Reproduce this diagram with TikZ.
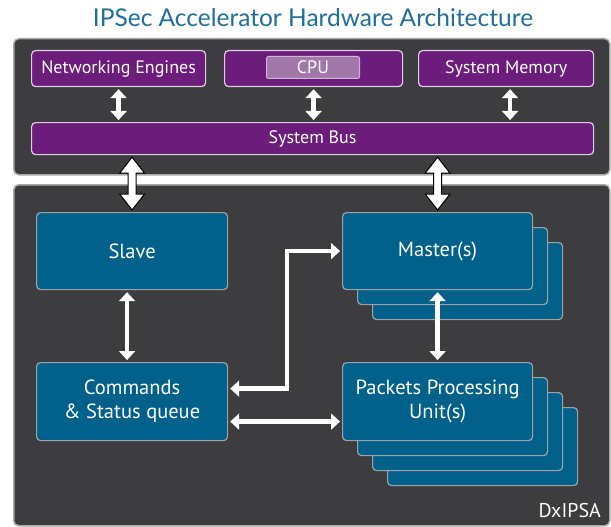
\documentclass[tikz,border=0pt]{standalone}
\usepackage{fontspec}
\setmainfont{PT Sans}
\newfontfamily\titlefont{Lato}
\usetikzlibrary{arrows.meta,calc}
\definecolor{titleblue}{HTML}{1F6E9C}
\definecolor{panelgray}{HTML}{3D3C3F}
\definecolor{panelrim}{HTML}{A8A8A8}
\definecolor{hostpurple}{HTML}{6C1D7B}
\definecolor{purplerim}{HTML}{DCCFE2}
\definecolor{cpulight}{HTML}{A277AA}
\definecolor{cpurim}{HTML}{CDB5D3}
\definecolor{unitblue}{HTML}{02618B}
\definecolor{bluerim}{HTML}{9AA3A9}
\tikzset{
  panel/.style={draw=panelrim, fill=panelgray, line width=1.5pt, rounded corners=5pt, anchor=north west, inner sep=0pt},
  hostbox/.style={draw=purplerim, fill=hostpurple, line width=1.2pt, rounded corners=4pt, anchor=north west,
    minimum height=36pt, inner sep=0pt, text=white, font=\fontsize{18}{20}\selectfont},
  cpuchip/.style={draw=cpurim, fill=cpulight, line width=1pt, rounded corners=2pt, anchor=north west,
    minimum width=93pt, minimum height=22pt, inner sep=0pt, text=white, font=\fontsize{18}{20}\selectfont},
  unitbox/.style={draw=bluerim, fill=unitblue, line width=1.2pt, rounded corners=4pt, anchor=north west,
    minimum width=190pt, minimum height=77pt, inner sep=0pt, text=white, align=center,
    font=\fontsize{20.5}{24}\selectfont},
  wa/.style={draw=white, line width=4.5pt, shorten <=2pt, shorten >=2pt,
    {Triangle[length=9pt,width=16pt]}-{Triangle[length=9pt,width=16pt]}},
  busarrow/.style={draw=black, fill=white, line width=1pt, line join=miter}
}
\begin{document}
\begin{tikzpicture}[x=1pt,y=-1pt]
\useasboundingbox (0,0) rectangle (611,527);
\fill[white] (0,0) rectangle (611,527);

% title
\node[text=titleblue, font=\titlefont\fontsize{24.5}{28}\selectfont] (title) at (313,18) {IPSec Accelerator Hardware Architecture};

% host side
\node[panel, minimum width=596pt, minimum height=136pt] (host) at (13,38) {};
\node[hostbox, minimum width=174pt] (ne) at (31,50) {Networking Engines};
\node[hostbox, minimum width=178pt] (cpu) at (224,50) {};
\node[cpuchip] (cpuchip) at (266,56) {CPU};
\node[hostbox, minimum width=175pt] (mem) at (418,50) {System Memory};
\node[hostbox, minimum width=562pt, minimum height=32pt] (bus) at (31,122) {System Bus};

\draw[wa] (ne.south) -- (ne.south |- bus.north);
\draw[wa] (cpu.south) -- (cpu.south |- bus.north);
\draw[wa] ([xshift=4pt]mem.south) -- ([xshift=4pt]mem.south |- bus.north);

% accelerator
\node[panel, minimum width=596pt, minimum height=341pt] (dx) at (13,184) {};

\node[unitbox, minimum width=191pt] (slave) at (36,212) {Slave};
\node[unitbox, minimum width=191pt, minimum height=78pt] (cmd) at (36,362) {Commands\\\& Status queue};

\node[unitbox] (master3) at (372,242) {};
\node[unitbox] (master2) at (357,227) {};
\node[unitbox] (master) at (342,212) {Master(s)};

\node[unitbox, minimum height=78pt] (ppu4) at (387,407) {};
\node[unitbox, minimum height=78pt] (ppu3) at (372,392) {};
\node[unitbox, minimum height=78pt] (ppu2) at (357,377) {};
\node[unitbox, minimum height=78pt] (ppu) at (342,362) {Packets Processing\\Unit(s)};

\node[anchor=base east, inner sep=0pt, text=white, font=\fontsize{20}{24}\selectfont] (dxname) at (601,517) {DxIPSA};

% system bus to accelerator
\coordinate (sa) at ([yshift=-2pt]bus.south -| slave.north);
\coordinate (sb) at ([yshift=2pt]slave.north);
\coordinate (ma) at ([yshift=-2pt]bus.south -| master.north);
\coordinate (mb) at ([yshift=2pt]master.north);
\foreach \a/\b in {sa/sb, ma/mb}{
  \draw[busarrow] let \p1=(\a), \p2=(\b) in
    (\x1,\y1) -- (\x1+12.5pt,\y1-16pt) -- (\x1+4pt,\y1-16pt) -- (\x1+4pt,\y2+16pt)
    -- (\x1+12.5pt,\y2+16pt) -- (\x1,\y2) -- (\x1-12.5pt,\y2+16pt) -- (\x1-4pt,\y2+16pt)
    -- (\x1-4pt,\y1-16pt) -- (\x1-12.5pt,\y1-16pt) -- cycle;
}

% internal connections
\draw[wa] ([xshift=-5pt]slave.south) -- ([xshift=-5pt]cmd.north);
\draw[wa] (master.south) -- (ppu.north);
\draw[wa] (master.west) -- ++(-55,0) |- ([yshift=13pt]cmd.east);
\draw[wa] ([yshift=-20pt]cmd.east) -- ([yshift=-20pt]cmd.east -| ppu.west);
\end{tikzpicture}
\end{document}
